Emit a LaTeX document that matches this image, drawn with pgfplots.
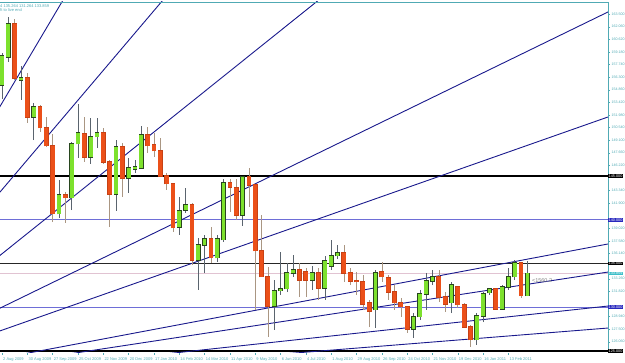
\documentclass[border=0pt]{standalone}
\usepackage{fontspec}
\setmainfont{Liberation Sans}
\usepackage{pgfplots}
\pgfplotsset{compat=1.18}
\usepackage{pgfplotstable}
\definecolor{mtteal}{RGB}{80,170,180}
\definecolor{fan}{RGB}{25,25,140}
\definecolor{hblue}{RGB}{110,110,215}
\definecolor{cgreen}{RGB}{125,225,45}
\definecolor{cgreenedge}{RGB}{40,70,30}
\definecolor{cred}{RGB}{235,80,25}
\definecolor{crededge}{RGB}{200,65,20}
\definecolor{wickg}{RGB}{90,100,110}
\definecolor{wickr}{RGB}{170,150,130}
\definecolor{bidline}{RGB}{225,195,210}
\definecolor{bidbox}{RGB}{60,190,200}
\definecolor{boxblue}{RGB}{40,40,190}
% bullish weeks: k open high low close
\pgfplotstableread{
k o h l c
0 155.40 159.06 153.80 158.71
1 158.60 163.17 158.03 162.37
3 155.97 157.57 153.69 156.20
5 151.74 153.34 149.11 152.89
9 140.66 144.54 140.20 142.83
11 142.49 148.89 141.11 148.66
12 148.66 153.23 147.06 149.91
14 147.17 151.63 146.37 149.46
15 149.46 151.63 148.20 149.91
18 142.94 149.11 141.00 148.31
20 144.77 147.06 143.06 145.91
21 145.80 146.83 145.34 146.03
22 145.91 150.71 145.80 149.69
28 139.17 142.60 138.26 141.00
29 141.11 143.63 140.77 141.69
31 135.40 137.91 131.97 137.11
32 137.11 138.26 133.91 137.80
34 135.63 138.26 135.17 137.80
35 137.69 144.66 137.46 144.20
38 140.54 144.89 139.29 144.89
43 130.14 133.11 127.40 131.86
44 131.86 136.31 131.40 132.09
45 132.09 135.06 131.74 133.91
46 133.91 135.97 133.46 134.26
49 133.11 134.71 131.97 133.91
51 132.20 135.86 130.83 135.29
52 134.71 137.69 134.26 135.86
53 135.86 137.11 135.51 136.20
59 129.69 134.26 127.63 133.91
65 127.51 129.34 126.49 128.89
66 128.89 131.97 128.54 131.51
67 131.51 133.91 129.69 133.00
68 133.00 134.26 132.54 133.46
71 130.49 132.89 129.34 132.54
75 126.26 129.34 125.69 129.00
76 129.00 131.74 128.31 131.51
77 131.63 132.20 131.40 132.09
79 129.80 132.54 129.69 132.31
80 132.31 134.49 131.97 133.46
81 133.46 135.40 133.11 135.06
83 131.32 135.26 131.26 133.86
}\greens
% bearish weeks: k open high low close
\pgfplotstableread{
k o h l c
2 162.37 162.94 155.97 156.20
4 156.20 156.77 151.06 151.74
6 152.89 153.11 150.03 150.49
7 150.49 151.74 148.31 148.43
8 148.43 149.80 139.74 140.66
10 142.83 143.17 139.63 142.49
13 149.80 151.74 146.60 147.17
16 149.91 150.49 146.37 146.60
17 146.60 146.83 139.17 142.94
19 148.31 148.77 142.60 144.77
23 149.69 150.60 147.63 148.43
24 148.54 149.91 147.17 147.86
25 147.86 149.34 144.89 145.00
26 145.00 145.34 143.40 144.09
27 144.09 144.20 138.60 139.06
30 141.69 141.91 134.83 135.40
33 137.80 139.17 135.06 135.63
36 144.20 144.66 140.89 143.74
37 143.63 144.66 139.97 140.54
39 144.89 145.91 141.46 143.97
40 143.97 143.97 129.69 136.43
41 136.43 140.54 133.46 133.46
42 133.46 134.60 126.60 130.14
47 134.26 135.06 131.17 133.11
48 134.03 134.49 131.17 133.11
50 133.91 134.49 130.83 132.20
54 136.20 137.11 132.89 133.91
55 133.91 134.49 132.54 133.00
56 133.00 134.03 131.40 132.89
57 132.89 133.69 129.69 130.37
58 130.49 130.83 127.74 129.57
60 134.03 135.17 132.89 133.46
61 133.34 133.69 130.83 131.74
62 131.74 132.54 129.69 130.49
63 130.49 131.06 128.89 130.03
64 130.03 130.03 127.06 127.51
69 133.46 134.26 130.60 131.17
70 131.17 131.74 129.46 130.37
72 132.31 132.31 129.91 130.26
73 130.26 130.49 127.63 127.74
74 127.74 127.97 125.46 126.26
78 132.09 132.20 129.69 129.80
82 135.06 135.17 131.06 131.32
}\reds
\pgfplotsset{
 fanline/.style={fan, line width=0.9pt},
 seg/.style 2 args={draw=none, mark=none, forget plot,
   error bars/.cd, y dir=plus, y explicit, error mark=none,
   error bar style={draw=#1, line width=#2}},
}
\begin{document}
\begin{tikzpicture}
\begin{axis}[at={(0,0)}, anchor=south west, scale only axis,
  width=608pt, height=351pt,
  xmin=-0.32, xmax=95.73, ymin=124.77, ymax=164.885,
  clip mode=individual,
  axis line style={draw=none},
  xtick={0,4,...,80},
  xticklabels={2 Aug 2009,30 Aug 2009,27 Sep 2009,25 Oct 2009,22 Nov 2009,20 Dec 2009,17 Jan 2010,14 Feb 2010,14 Mar 2010,11 Apr 2010,9 May 2010,6 Jun 2010,4 Jul 2010,1 Aug 2010,29 Aug 2010,26 Sep 2010,24 Oct 2010,21 Nov 2010,19 Dec 2010,16 Jan 2011,13 Feb 2011},
  x tick label style={font=\fontsize{4}{5}\selectfont, text=mtteal, anchor=north west, inner sep=0pt, xshift=1pt, yshift=-2.5pt},
  xtick pos=bottom,
  ytick={126.06,127.50,128.94,131.82,133.26,136.14,137.58,139.02,141.90,143.34,146.22,147.66,149.10,150.54,151.98,153.42,154.86,156.30,157.74,159.18,160.62,162.06,163.50},
  ytick pos=right, yticklabel pos=right,
  yticklabel={\pgfmathprintnumber[fixed,fixed zerofill,precision=3,1000 sep={},assume math mode=true]{\tick}},
  y tick label style={font=\fontsize{3.6}{4}\selectfont, text=mtteal, anchor=west, inner sep=0pt, xshift=1.5pt},
  tick style={mtteal, line width=0.4pt}, major tick length=2pt, tick align=outside,
]
% horizontal levels
\addplot[black, line width=1.4pt] coordinates {(-1,145) (100,145)};
\addplot[hblue, line width=0.7pt] coordinates {(-1,140) (100,140)};
\addplot[black!85, line width=1.4pt] coordinates {(-1,135) (100,135)};
\addplot[bidline, line width=0.6pt] coordinates {(-1,133.859) (100,133.859)};
\addplot[hblue, line width=0.7pt] coordinates {(-1,130) (100,130)};
\addplot[black, line width=1.4pt] coordinates {(-1,125) (100,125)};
% fan lines
\addplot[fanline] coordinates {(-26.86,120.54) (100,275.45)};
\addplot[fanline] coordinates {(-26.86,120.54) (100,228.68)};
\addplot[fanline] coordinates {(-26.86,120.54) (100,194.08)};
\addplot[fanline] coordinates {(-26.86,120.54) (100,165.25)};
\addplot[fanline] coordinates {(-26.86,120.54) (100,152.83)};
\addplot[fanline] coordinates {(-26.86,120.54) (100,137.81)};
\addplot[fanline] coordinates {(-26.86,120.54) (100,134.49)};
\addplot[fanline] coordinates {(-26.86,120.54) (100,130.47)};
\addplot[fanline] coordinates {(-26.86,120.54) (100,127.87)};
% wicks
\addplot[seg={wickg}{0.6pt}] table[x=k, y=l, y error expr=\thisrow{h}-\thisrow{l}] {\greens};
\addplot[seg={wickr}{0.6pt}] table[x=k, y=l, y error expr=\thisrow{h}-\thisrow{l}] {\reds};
% bodies: edge then fill
\addplot[seg={cgreenedge}{4.8pt}] table[x=k, y expr=\thisrow{o}-0.06, y error expr=\thisrow{c}-\thisrow{o}+0.12] {\greens};
\addplot[seg={cgreen}{3.8pt}] table[x=k, y=o, y error expr=\thisrow{c}-\thisrow{o}] {\greens};
\addplot[seg={crededge}{4.8pt}] table[x=k, y expr=\thisrow{c}-0.06, y error expr=\thisrow{o}-\thisrow{c}+0.12] {\reds};
\addplot[seg={cred}{3.8pt}] table[x=k, y=c, y error expr=\thisrow{o}-\thisrow{c}] {\reds};
% frame
\draw[mtteal, line width=0.8pt] (rel axis cs:0,1) -- (rel axis cs:1,1) -- (rel axis cs:1,0);
% price boxes
\tikzset{pbox/.style={anchor=west, inner sep=0.5pt, font=\fontsize{3.8}{4}\selectfont, text=white}}
\node[pbox, fill=black] at (axis cs:95.73,145) {145.000};
\node[pbox, fill=boxblue] at (axis cs:95.73,140) {140.000};
\node[pbox, fill=black] at (axis cs:95.73,135) {135.000};
\node[pbox, fill=bidbox] at (axis cs:95.73,133.859) {133.859};
\node[pbox, fill=boxblue] at (axis cs:95.73,130) {130.000};
\node[pbox, fill=black] at (axis cs:95.73,125) {125.000};
% header (cut at the left edge in the reference)
\node[anchor=north west, inner sep=0pt, text=mtteal, font=\fontsize{4}{4.8}\selectfont, align=left] at (rel axis cs:0,0.994) {4 135.264 131.264 133.859\\ft to live end};
\node[anchor=west, inner sep=0pt, text=gray, font=\fontsize{5.5}{6}\selectfont] at (axis cs:83.7,133.0) {<1560.2};
\end{axis}
\pgfresetboundingbox
\path[use as bounding box] (0,-10pt) rectangle (625pt,353pt);
\end{tikzpicture}
\end{document}
